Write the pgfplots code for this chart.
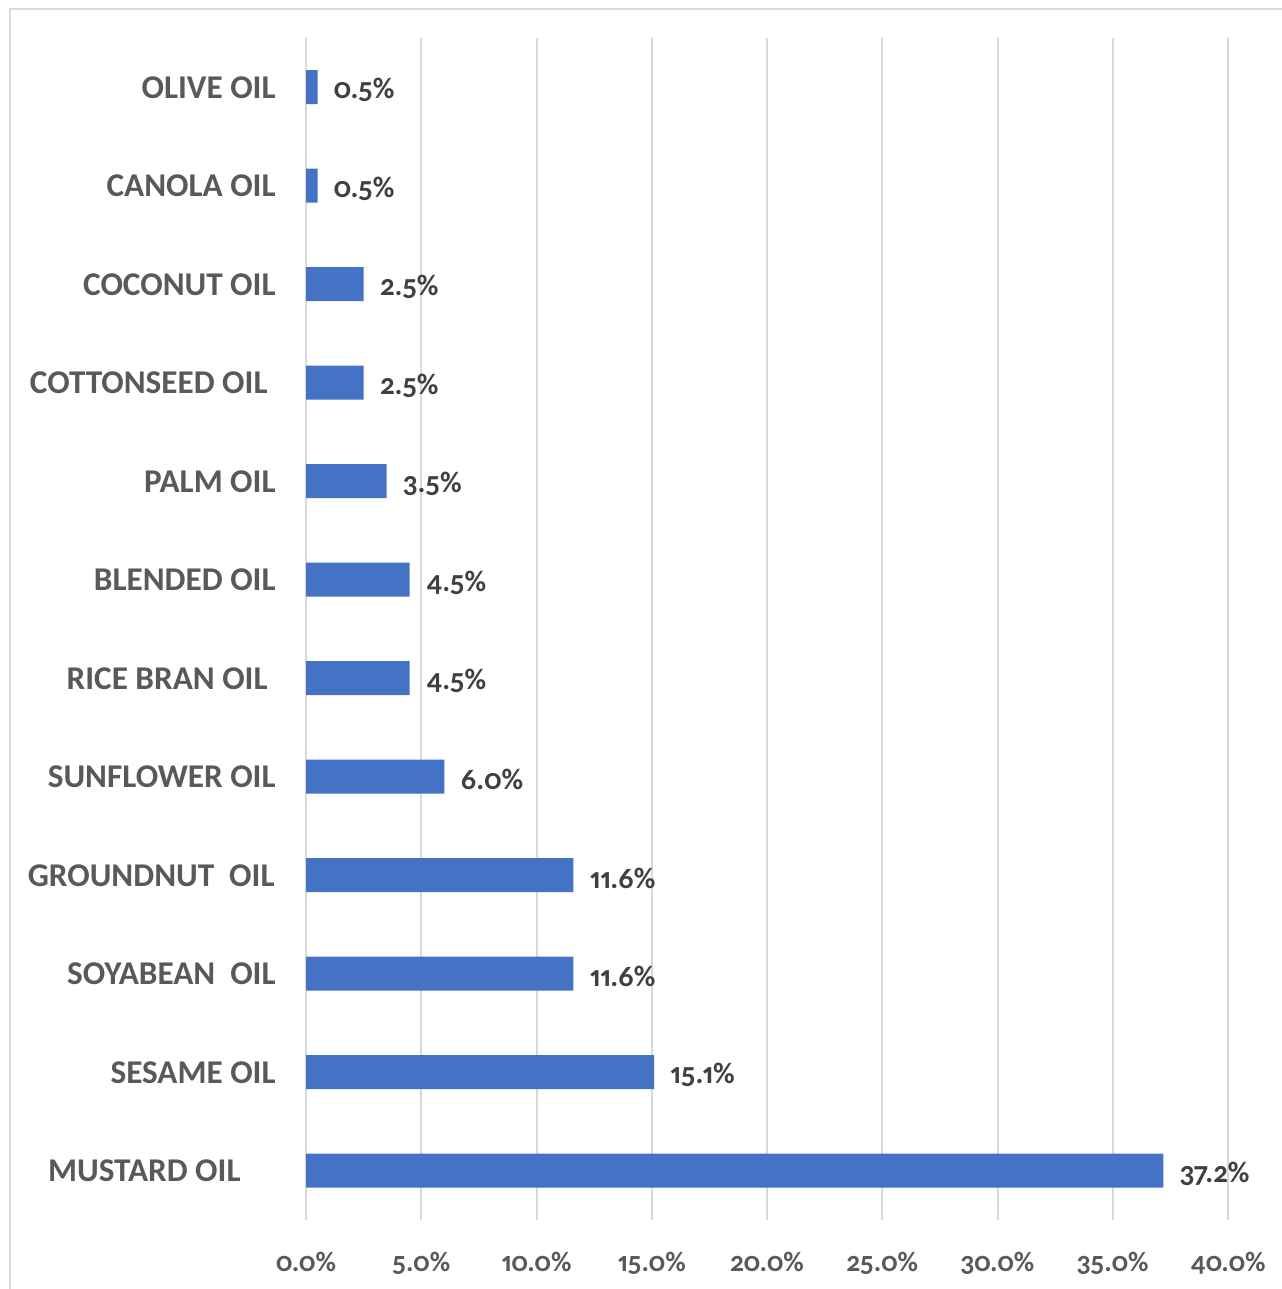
\documentclass[border=0pt]{standalone}
\usepackage{pgfplots}
\pgfplotsset{compat=1.18}
\usepackage{fontspec}
\setmainfont{Carlito}[Numbers={Proportional,OldStyle}]
\definecolor{barblue}{HTML}{4472C4}
\definecolor{labgray}{HTML}{595959}
\definecolor{datgray}{HTML}{404040}
\definecolor{gridgray}{HTML}{D9D9D9}
\begin{document}
\begin{tikzpicture}
\useasboundingbox (0pt,0pt) rectangle (640.5pt,644.5pt);
\draw[gridgray, line width=1pt] (5pt,-10pt) rectangle (660pt,640pt);
\begin{axis}[
  at={(153pt,34.5pt)}, anchor=south west,
  scale only axis, width=461pt, height=591pt,
  xbar, bar width=17pt,
  xmin=0, xmax=40, ymin=-0.5, ymax=11.5,
  xtick={0,5,...,40},
  ytick={0,...,11},
  yticklabels={{MUSTARD OIL\hspace*{17.5pt}},{SESAME OIL},{SOYABEAN\ \ OIL},{GROUNDNUT\ \ OIL\hspace*{0.5pt}},{SUNFLOWER OIL},{RICE BRAN OIL\hspace*{4pt}},{BLENDED OIL},{PALM OIL},{COTTONSEED OIL\hspace*{4pt}},{COCONUT OIL},{CANOLA OIL},{OLIVE OIL}},
  /pgf/number format/assume math mode=true,
  xticklabel={\pgfmathprintnumber[fixed,fixed zerofill,precision=1]{\tick}\%},
  major tick length=0pt,
  axis line style={draw=none},
  xmajorgrids, major grid style={gridgray, line width=1pt},
  xticklabel style={font=\fontsize{14}{16}\selectfont\bfseries, text=labgray, anchor=north, inner sep=0pt, yshift=-16pt},
  yticklabel style={font=\fontsize{16.6}{18}\selectfont\bfseries, text=labgray, anchor=east, inner sep=0pt, xshift=-15pt},
  point meta=x,
  nodes near coords={\pgfmathprintnumber[fixed,fixed zerofill,precision=1,assume math mode=true]{\pgfplotspointmeta}\%},
  nodes near coords style={font=\fontsize{14.8}{16}\selectfont\bfseries, text=datgray, anchor=west, inner sep=0pt, xshift=8pt, yshift=-1.5pt},
]
\addplot[fill=barblue, draw=none] coordinates {
(37.2,0) (15.1,1) (11.6,2) (11.6,3) (6.0,4) (4.5,5) (4.5,6) (3.5,7) (2.5,8) (2.5,9) (0.5,10) (0.5,11)
};
\end{axis}
\end{tikzpicture}
\end{document}
